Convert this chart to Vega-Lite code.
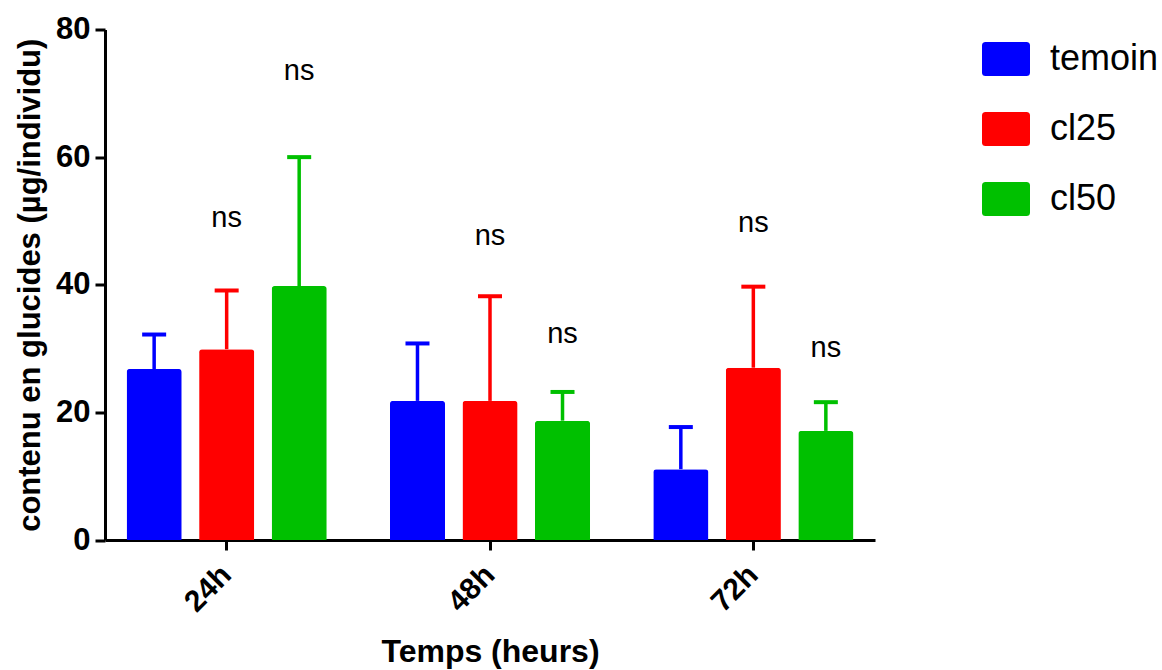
{
  "$schema": "https://vega.github.io/schema/vega-lite/v6.json",
  "width": 770,
  "height": 510.5,
  "autosize": {"type": "none"},
  "padding": {"left": 105, "top": 29.5, "right": 287, "bottom": 130},
  "background": "white",
  "data": {
    "values": [
      {"temps": "24h", "groupe": "temoin", "moyenne": 26.8, "erreur_sup": 32.2},
      {"temps": "24h", "groupe": "cl25", "moyenne": 29.9, "erreur_sup": 39.1, "sig": "ns", "sig_y": 49.1},
      {"temps": "24h", "groupe": "cl50", "moyenne": 39.8, "erreur_sup": 60.0, "sig": "ns", "sig_y": 72.1},
      {"temps": "48h", "groupe": "temoin", "moyenne": 21.8, "erreur_sup": 30.8},
      {"temps": "48h", "groupe": "cl25", "moyenne": 21.8, "erreur_sup": 38.2, "sig": "ns", "sig_y": 46.3},
      {"temps": "48h", "groupe": "cl50", "moyenne": 18.7, "erreur_sup": 23.2, "sig": "ns", "sig_y": 30.8},
      {"temps": "72h", "groupe": "temoin", "moyenne": 11.1, "erreur_sup": 17.7},
      {"temps": "72h", "groupe": "cl25", "moyenne": 27.0, "erreur_sup": 39.7, "sig": "ns", "sig_y": 48.3},
      {"temps": "72h", "groupe": "cl50", "moyenne": 17.1, "erreur_sup": 21.6, "sig": "ns", "sig_y": 28.7}
    ]
  },
  "encoding": {
    "x": {
      "field": "temps",
      "type": "nominal",
      "sort": ["24h", "48h", "72h"],
      "scale": {"paddingInner": 0.24, "paddingOuter": 0.082},
      "axis": {
        "title": "Temps (heurs)",
        "labelAngle": -45,
        "labelAlign": "right",
        "labelBaseline": "middle",
        "labelFont": "Liberation Sans",
        "labelFontWeight": "bold",
        "labelFontSize": 30,
        "labelColor": "black",
        "labelPadding": 20,
        "tickSize": 10,
        "tickWidth": 3,
        "tickColor": "black",
        "domainWidth": 3,
        "domainColor": "black",
        "titleFont": "Liberation Sans",
        "titleFontWeight": "bold",
        "titleFontSize": 32,
        "titleColor": "black",
        "titlePadding": 19
      }
    },
    "xOffset": {
      "field": "groupe",
      "type": "nominal",
      "scale": {"domain": ["temoin", "cl25", "cl50"], "paddingInner": 0.24, "paddingOuter": 0}
    }
  },
  "layer": [
    {
      "mark": {"type": "bar", "cornerRadiusTopLeft": 3, "cornerRadiusTopRight": 3},
      "encoding": {
        "y": {
          "field": "moyenne",
          "type": "quantitative",
          "scale": {"domain": [0, 80], "nice": false},
          "axis": {
            "title": "contenu en glucides (µg/individu)",
            "values": [0, 20, 40, 60, 80],
            "grid": false,
            "labelFont": "Liberation Sans",
            "labelFontWeight": "bold",
            "labelFontSize": 31,
            "labelColor": "black",
            "labelPadding": 5,
            "tickSize": 10,
            "tickWidth": 3,
            "tickColor": "black",
            "domainWidth": 3,
            "domainColor": "black",
            "titleFont": "Liberation Sans",
            "titleFontWeight": "bold",
            "titleFontSize": 31,
            "titleColor": "black",
            "titlePadding": 9
          }
        },
        "color": {
          "field": "groupe",
          "type": "nominal",
          "scale": {"domain": ["temoin", "cl25", "cl50"], "range": ["#0000ff", "#ff0000", "#00c000"]},
          "legend": {
            "title": null,
            "orient": "none",
            "legendX": 877,
            "legendY": 5.5,
            "padding": 0,
            "symbolType": "M-0.85,-0.708H0.85Q1,-0.708,1,-0.558V0.558Q1,0.708,0.85,0.708H-0.85Q-1,0.708,-1,0.558V-0.558Q-1,-0.708,-0.85,-0.708Z",
            "symbolSize": 2304,
            "symbolStrokeWidth": 0,
            "symbolOpacity": 1,
            "labelFont": "Liberation Sans",
            "labelFontSize": 36,
            "labelColor": "black",
            "labelOffset": 20,
            "rowPadding": 28,
            "labelLimit": 300
          }
        }
      }
    },
    {
      "mark": {"type": "rule", "strokeWidth": 3.5},
      "encoding": {
        "y": {"field": "moyenne", "type": "quantitative"},
        "y2": {"field": "erreur_sup"},
        "color": {"field": "groupe", "type": "nominal"}
      }
    },
    {
      "mark": {"type": "tick", "orient": "horizontal", "size": 24, "thickness": 4, "opacity": 1},
      "encoding": {
        "y": {"field": "erreur_sup", "type": "quantitative"},
        "color": {"field": "groupe", "type": "nominal"}
      }
    },
    {
      "transform": [{"filter": "isValid(datum.sig)"}],
      "mark": {"type": "text", "font": "Liberation Sans", "fontSize": 29, "color": "black", "baseline": "alphabetic", "align": "center"},
      "encoding": {
        "y": {"field": "sig_y", "type": "quantitative"},
        "text": {"field": "sig"}
      }
    }
  ],
  "config": {
    "view": {"stroke": null}
  }
}
